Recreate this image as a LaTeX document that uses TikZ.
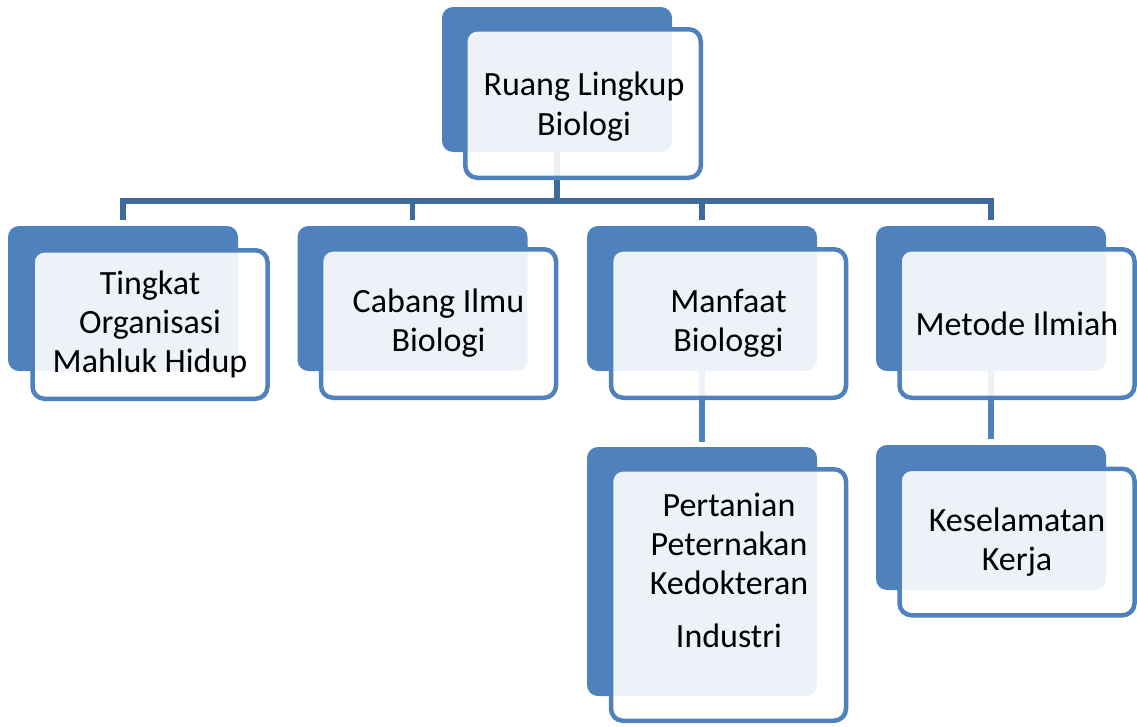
\documentclass[tikz,border=0pt]{standalone}
\usepackage{fontspec}
\setmainfont{Carlito}
\definecolor{accent}{HTML}{4F81BD}
\definecolor{busc}{HTML}{3F6B9C}
\tikzset{
  backbox/.style={fill=accent, draw=none, rounded corners=11pt, minimum width=230pt, inner sep=0pt},
  frontbox/.style={fill=white, fill opacity=0.9, text opacity=1, draw=accent, line width=4.5pt, rounded corners=12pt, minimum width=235pt, inner sep=0pt, align=center, font=\fontsize{34pt}{39pt}\selectfont},
  txt/.style={align=center, inner sep=0pt, font=\fontsize{34pt}{39pt}\selectfont},
  busline/.style={draw=busc, line width=5.5pt},
  subline/.style={draw=accent, line width=5.5pt}
}
\begin{document}
\begin{tikzpicture}[x=1pt,y=-1pt]
\useasboundingbox (0,0) rectangle (1137,726);
% back rectangles
\node[backbox, minimum height=145pt] (b0) at (557,79.5) {};
\node[backbox, minimum height=145pt] (b1) at (123,298.5) {};
\node[backbox, minimum height=145pt] (b2) at (412.5,298.5) {};
\node[backbox, minimum height=145pt] (b3) at (702,298.5) {};
\node[backbox, minimum height=145pt] (b4) at (991,298.5) {};
\node[backbox, minimum height=249pt] (b5) at (702,571.5) {};
\node[backbox, minimum height=145pt] (b6) at (991,517.5) {};
% connectors
\coordinate (J) at (557,201);
\draw[busline] (b0.south) -- (J);
\draw[busline, shorten <=6pt, shorten >=6pt] (b1.north) |- (J) -| (b4.north);
\draw[busline, shorten <=6pt] (b2.north) -- (b2.north |- J);
\draw[busline, shorten <=6pt] (b3.north) -- (b3.north |- J);
\draw[subline, shorten >=5pt] (b3.south) -- (b5.north);
\draw[subline, shorten >=6pt] (b4.south) -- (b6.north);
% front boxes
\node[frontbox, minimum height=148.5pt, minimum width=235.5pt] (f0) at (583,103.5) {};
\node[txt, font=\fontsize{34pt}{40pt}\selectfont] (t0) at (584,107) {Ruang Lingkup\\Biologi};
\node[frontbox, minimum height=148.5pt] (f1) at (150,324.5) {Tingkat\\Organisasi\\Mahluk Hidup};
\node[frontbox, minimum height=148.5pt] (f2) at (438.5,323.5) {Cabang Ilmu\\Biologi};
\node[frontbox, minimum height=148.5pt] (f3) at (728.5,323.5) {Manfaat\\Biologgi};
\node[frontbox, minimum height=148.5pt] (f4) at (1017,323.5) {Metode Ilmiah};
\node[frontbox, minimum height=251.5pt] (f5) at (728.5,595) {};
\node[txt] (t5) at (729,570) {Pertanian\\Peternakan\\Kedokteran\\[14pt]Industri};
\node[frontbox, minimum height=146.5pt] (f6) at (1017,542) {Keselamatan\\Kerja};
\end{tikzpicture}
\end{document}
